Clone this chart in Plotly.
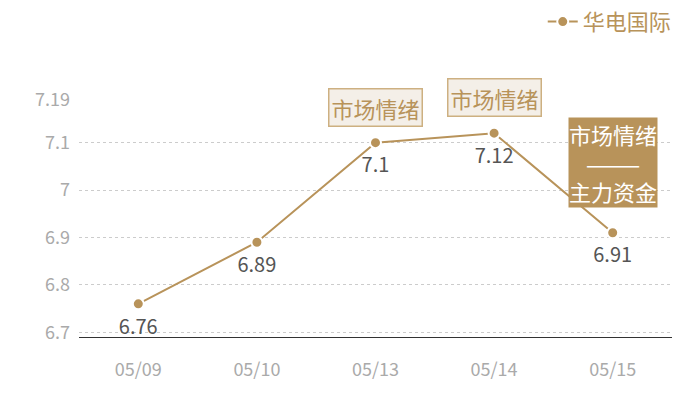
import plotly.graph_objects as go

dates = ["05/09", "05/10", "05/13", "05/14", "05/15"]
prices = [6.76, 6.89, 7.1, 7.12, 6.91]
price_labels = ["6.76", "6.89", "7.1", "7.12", "6.91"]
y_ticks = [6.7, 6.8, 6.9, 7, 7.1, 7.19]
y_tick_labels = ["6.7", "6.8", "6.9", "7", "7.1", "7.19"]

GOLD = "#b8935a"
FONT = "Noto Sans CJK SC"

fig = go.Figure()
fig.add_trace(go.Scatter(
    x=dates, y=prices, name="华电国际",
    mode="lines+markers",
    line=dict(color=GOLD, width=2),
    marker=dict(size=11, color=GOLD, line=dict(color="white", width=2)),
    cliponaxis=False,
))
# value labels: invisible big markers push the text a bit further below the points
fig.add_trace(go.Scatter(
    x=dates, y=prices, mode="markers+text", showlegend=False, hoverinfo="skip",
    marker=dict(size=22, color="rgba(0,0,0,0)"),
    text=price_labels, textposition="bottom center",
    textfont=dict(family=FONT, size=20, color="#555555"),
    cliponaxis=False,
))

# sentiment tags (paper y so they can sit above the plot area)
light = dict(font=dict(family=FONT, size=22, color=GOLD), bgcolor="#f4efe8",
             bordercolor="#cdb081", borderwidth=1.5, borderpad=2, showarrow=False,
             xref="x", yref="paper", yanchor="middle")
fig.add_annotation(x=dates[2], y=0.97, text="市场情绪", **light)
fig.add_annotation(x=dates[3], y=1.01, text="市场情绪", **light)
fig.add_annotation(x=dates[4], y=0.735, text="市场情绪<br>———<br>主力资金",
                   xref="x", yref="paper", yanchor="middle", showarrow=False,
                   font=dict(family=FONT, size=22, color="white"),
                   bgcolor=GOLD, borderpad=0)

# page body adds an 8px offset, margins are set to compensate
fig.update_layout(
    width=700, height=400,
    margin=dict(l=71, r=36, t=92, b=71, autoexpand=False),
    plot_bgcolor="white", paper_bgcolor="white",
    font=dict(family=FONT),
    showlegend=True,
    legend=dict(x=1.008, y=1.33, xanchor="right", yanchor="middle",
                font=dict(family=FONT, size=22, color=GOLD),
                itemwidth=30),
    xaxis=dict(range=[-0.5, 4.5], showgrid=False, showline=True,
               linecolor="#333333", linewidth=1,
               ticks="", ticklabelstandoff=16,
               tickfont=dict(family=FONT, size=18, color="#aaaaaa")),
    yaxis=dict(range=[6.69, 7.19], tickvals=y_ticks, ticktext=y_tick_labels,
               showgrid=True, gridcolor="#cccccc", griddash="dot", zeroline=False,
               showline=False, ticks="", ticklabelstandoff=8,
               tickfont=dict(family=FONT, size=18, color="#aaaaaa")),
)

fig.write_html("out.html")
